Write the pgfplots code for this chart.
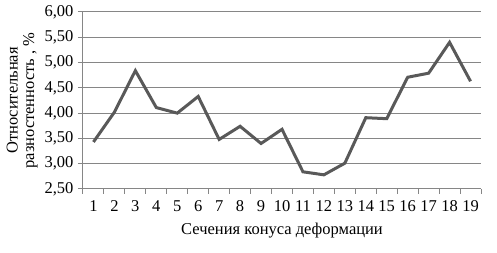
\documentclass[border=0pt]{standalone}
\usepackage{pgfplots}
\pgfplotsset{compat=1.18}
\usepackage{fontspec}
\setmainfont{Liberation Serif}
\definecolor{lineC}{HTML}{595959}
\definecolor{gridC}{HTML}{868686}
\begin{document}
\begin{tikzpicture}
\begin{axis}[
  scale only axis,
  width=398pt, height=177pt,
  xmin=0.5, xmax=19.5,
  ymin=2.5, ymax=6,
  xtick={1,...,19},
  major x tick style={draw=none},
  minor xtick={0.5,1.5,...,19.5},
  minor x tick style={draw=gridC, line width=1pt},
  minor tick length=5pt,
  ytick={2.5,3,...,6},
  major tick length=5pt,
  ymajorgrids,
  grid style={draw=gridC, line width=1pt},
  axis x line*=bottom,
  axis y line*=left,
  axis line style={draw=gridC, line width=1pt, -},
  y tick style={draw=gridC, line width=1pt},
  tick align=outside,
  y tick label style={/pgf/number format/fixed, /pgf/number format/fixed zerofill, /pgf/number format/precision=2, /pgf/number format/use comma, xshift=-1pt},
  /pgf/number format/assume math mode=true,
  ticklabel style={font=\fontsize{16.5}{18}\selectfont},
  x tick label style={yshift=-3pt},
  xlabel={Сечения конуса деформации},
  xlabel style={at={(axis description cs:0.5,-0.237)}, anchor=center, font=\fontsize{16.5}{18}\selectfont},
  ylabel={Относительная\\разностенность , \%},
  ylabel style={at={(axis description cs:-0.153,0.5)}, anchor=center, align=center, font=\fontsize{16.5}{16.5}\selectfont},
]
\addplot[lineC, line width=3pt, mark=none, line join=miter] coordinates {
(1,3.43) (2,4.02) (3,4.84) (4,4.11) (5,4.00) (6,4.33) (7,3.48) (8,3.74) (9,3.40) (10,3.68)
(11,2.84) (12,2.78) (13,3.01) (14,3.91) (15,3.89) (16,4.71) (17,4.79) (18,5.40) (19,4.63)
};
\end{axis}
\pgfresetboundingbox
\path ([shift={(-83pt,-64pt)}]current axis.south west) rectangle ([shift={(16pt,12pt)}]current axis.north east);
\end{tikzpicture}
\end{document}
